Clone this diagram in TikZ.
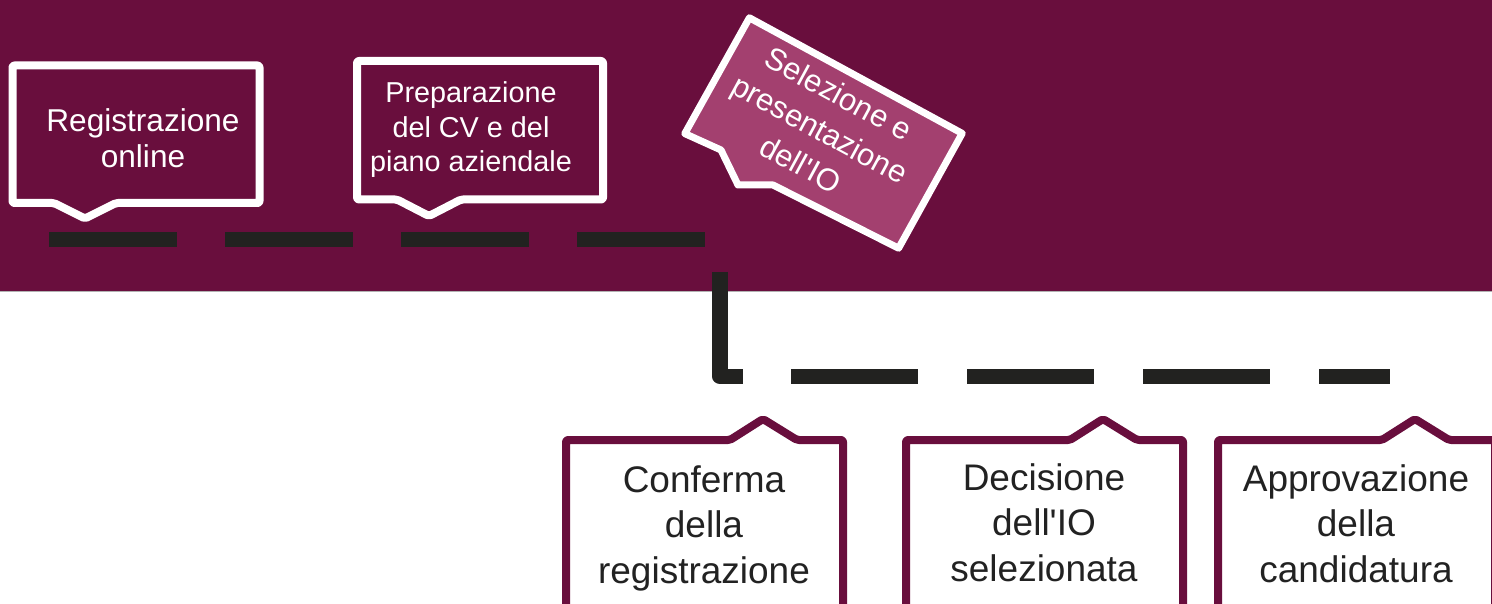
\documentclass[tikz,border=0pt]{standalone}
\usepackage{fontspec}
\newfontfamily\arialf{Liberation Sans}
\definecolor{band}{HTML}{690E3D}
\definecolor{pinkbox}{HTML}{A3406F}
\definecolor{dashc}{HTML}{222220}
\definecolor{txt}{HTML}{222222}
\begin{document}
\begin{tikzpicture}[x=1pt,y=-1pt,
  topcall/.style={draw=white, line width=8pt, rounded corners=2pt, line join=round},
  botcall/.style={draw=band, fill=white, line width=8pt, rounded corners=2pt, line join=round},
  dashline/.style={draw=dashc, line width=15.5pt},
  toptext/.style={text=white, align=center, inner sep=0pt, anchor=base},
  bottext/.style={text=txt, align=center, inner sep=0pt, anchor=base, font=\arialf\fontsize{37}{45.5}\selectfont}]
\useasboundingbox (0,0) rectangle (1492,604);
% band
\fill[band] (0,0) rectangle (1492,291);
\draw[gray!60, line width=1.5pt] (0,291.5) -- (1492,291.5);
% top callouts
\draw[topcall] (12.5,65.5) -- (259.5,65.5) -- (259.5,203) -- (116,203) -- (85,218.5) -- (54,203) -- (12.5,203) -- cycle;
\draw[topcall] (357,61) -- (603,61) -- (603,199.5) -- (461,199.5) -- (429,216) -- (397,199.5) -- (357,199.5) -- cycle;
\node[toptext, font=\arialf\fontsize{31.6}{36}\selectfont] (t1) at (143,168) {Registrazione\\online};
\node[toptext, font=\arialf\fontsize{28.8}{34.5}\selectfont] (t2) at (471,172) {Preparazione\\del CV e del\\piano aziendale};
% tilted callout
\draw[draw=white, fill=pinkbox, line width=7pt, line join=round]
  (749.4,17.8) -- (962.2,133.4) -- (898.6,248.2) -- (773,185) -- (738,185) -- (721,150) -- (684.8,133.6) -- cycle;
\node[text=white, align=center, inner sep=0pt, rotate=-28.5, font=\arialf\fontsize{31}{40}\selectfont] (t3) at (820,129) {Selezione e\\presentazione\\dell'IO};
% dashes
\draw[dashline, dash pattern=on 128pt off 48pt] (49,239.5) -- (705,239.5);
\draw[dashline, line join=round] (720,272) -- (720,376.5) -- (743,376.5);
\draw[dashline, dash pattern=on 127pt off 49pt] (791,376.5) -- (1390,376.5);
% bottom callouts
\draw[botcall] (566,625) -- (566,440) -- (730,440) -- (763,419) -- (797,440) -- (843,440) -- (843,625);
\draw[botcall] (906,625) -- (906,440) -- (1070,440) -- (1103,419) -- (1137,440) -- (1183,440) -- (1183,625);
\draw[botcall] (1218,625) -- (1218,440) -- (1382,440) -- (1415,419) -- (1449,440) -- (1495,440) -- (1495,625);
\node[bottext] (t4) at (704,583) {Conferma\\della\\registrazione};
\node[bottext] (t5) at (1044,581) {Decisione\\dell'IO\\selezionata};
\node[bottext] (t6) at (1356,582) {Approvazione\\della\\candidatura};
\end{tikzpicture}
\end{document}
